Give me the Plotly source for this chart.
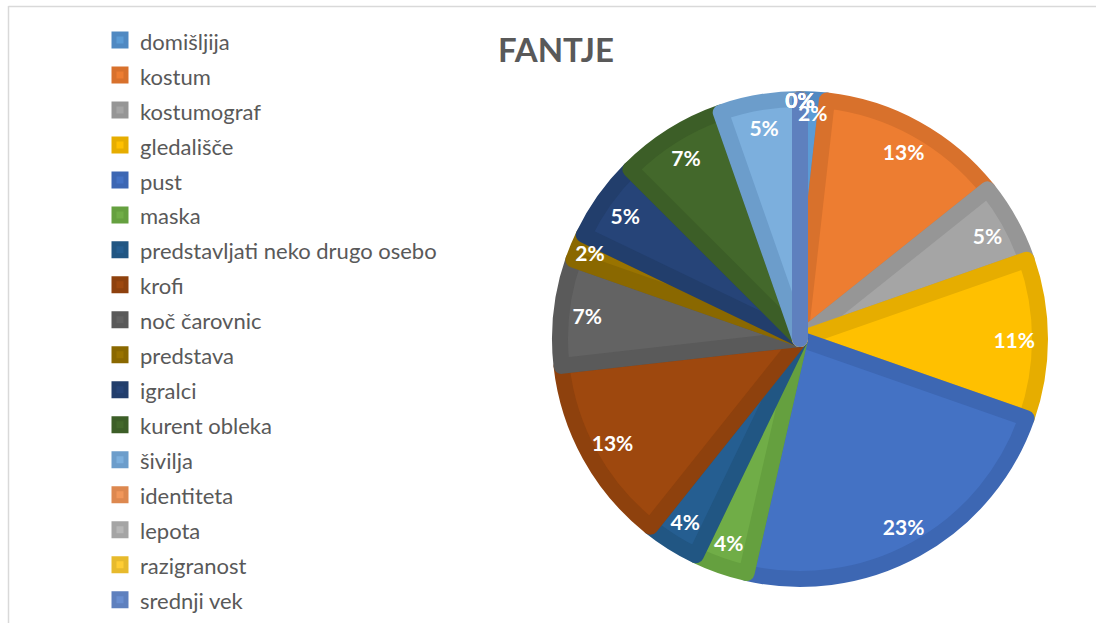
import plotly.graph_objects as go

labels = ["domišljija", "kostum", "kostumograf", "gledališče", "pust", "maska",
          "predstavljati neko drugo osebo", "krofi", "noč čarovnic", "predstava",
          "igralci", "kurent obleka", "šivilja", "identiteta", "lepota",
          "razigranost", "srednji vek"]
values = [1, 7, 3, 6, 13, 2, 2, 7, 4, 1, 3, 4, 3, 0, 0, 0, 0]

fill_colors = ["#5B9BD5", "#ED7D31", "#A5A5A5", "#FFC000", "#4472C4", "#70AD47",
               "#255E91", "#9E480E", "#636363", "#997300", "#264478", "#43682B",
               "#7CAFDD", "#F1975A", "#B7B7B7", "#FFCD33", "#698ED0"]
line_colors = ["#5089C2", "#D8712C", "#969696", "#E6AD00", "#3D67B3", "#65A03F",
               "#215683", "#8E410D", "#5A5A5A", "#8A6800", "#223E6C", "#3C5E27",
               "#6C9DCB", "#DD884F", "#A5A5A5", "#E7BA2C", "#5E80BE"]

W, H = 1096, 623
cx, cy, r = 800, 339, 240
dom = dict(x=[(cx - r) / W, (cx + r) / W], y=[(H - cy - r) / H, (H - cy + r) / H])

legend_labels = ["<span style='font-size:22px'>%s</span>" % l for l in labels]

fig = go.Figure()
fig.add_trace(go.Pie(
    labels=legend_labels, values=values, sort=False, direction="clockwise", rotation=0,
    marker=dict(colors=fill_colors, line=dict(color=line_colors, width=16)),
    textinfo="none", domain=dom, showlegend=True, hoverinfo="label+percent",
))
fig.add_trace(go.Pie(
    labels=legend_labels, values=values, sort=False, direction="clockwise", rotation=0,
    hole=0.785,
    marker=dict(colors=["rgba(0,0,0,0)"] * len(labels), line=dict(width=0)),
    textinfo="percent", textposition="inside", insidetextorientation="horizontal",
    texttemplate="%{percent:.0%}",
    textfont=dict(family="Lato, Open Sans, sans-serif", size=21, color="white", weight="bold"),
    domain=dom, showlegend=False, hoverinfo="skip",
))

fig.update_layout(
    width=W, height=H, margin=dict(l=0, r=0, t=0, b=0),
    paper_bgcolor="white", plot_bgcolor="white",
    font=dict(family="Lato, Open Sans, sans-serif", color="#595959"),
    uniformtext=dict(minsize=21, mode="show"),
    title=dict(text="<b>FANTJE</b>", x=556 / W, xanchor="center", y=1 - 50 / H, yanchor="middle",
               font=dict(size=33, color="#595959", family="Lato, Open Sans, sans-serif")),
    legend=dict(x=100 / W, y=1 - 17.5 / H, xanchor="left", yanchor="top",
                font=dict(size=24.6, color="#595959"), tracegroupgap=0,
                itemwidth=30, bgcolor="rgba(0,0,0,0)"),
    shapes=[
        dict(type="line", xref="paper", yref="paper", x0=8.5 / W, x1=8.5 / W, y0=0, y1=1 - 6 / H,
             line=dict(color="#D9D9D9", width=1.5)),
        dict(type="line", xref="paper", yref="paper", x0=8.5 / W, x1=1, y0=1 - 6.5 / H, y1=1 - 6.5 / H,
             line=dict(color="#D9D9D9", width=1.5)),
    ],
)

fig.write_html("out.html", config={"displayModeBar": False},
               post_script="document.body.style.margin='0';")
